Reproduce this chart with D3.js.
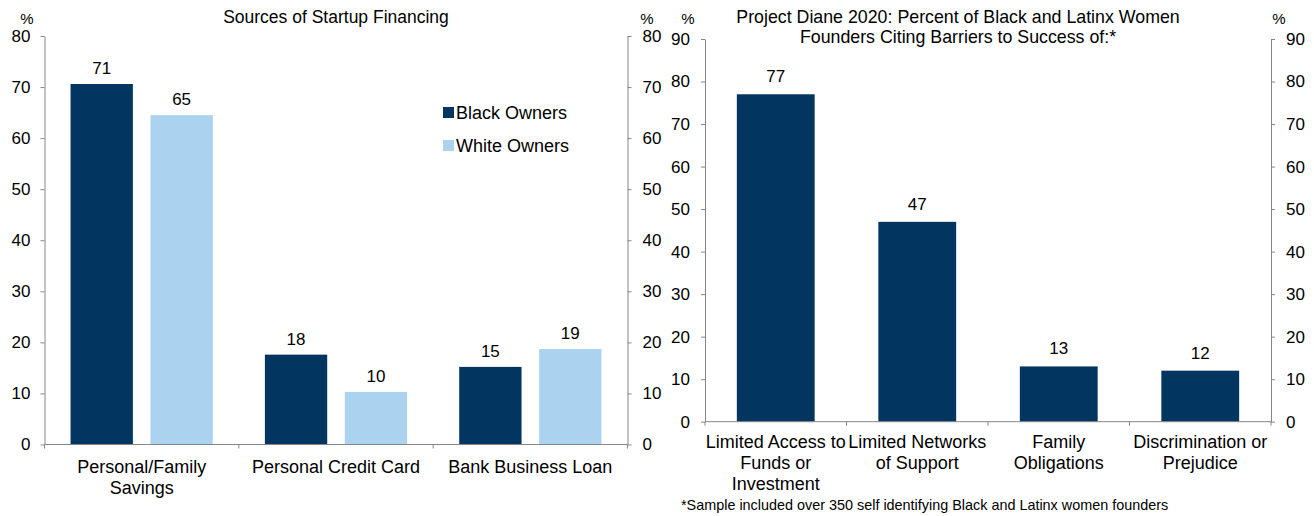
<!DOCTYPE html>
<html>
<head>
<meta charset="utf-8">
<script src="https://cdn.jsdelivr.net/npm/d3@7"></script>
<style>
  body { margin: 0; background: #fff; }
  svg { display: block; font-family: "Liberation Sans", Arial, sans-serif; }
  .axis path, .axis line { stroke: #868686; }
  .axis text { font-size: 17px; fill: #000; }
</style>
</head>
<body>
<svg width="1314" height="516"></svg>
<script>
// left chart data
let financeCats = ['Personal/Family Savings', 'Personal Credit Card', 'Bank Business Loan']
let financeLabels = [['Personal/Family', 'Savings'], ['Personal Credit Card'], ['Bank Business Loan']]
let seriesNames = ['Black Owners', 'White Owners']
let blackOwners = [70.6, 17.6, 15.2]
let whiteOwners = [64.5, 10.3, 18.7]
let blackShown = [71, 18, 15]
let whiteShown = [65, 10, 19]

// right chart data
let barrierCats = ['Limited Access to Funds or Investment', 'Limited Networks of Support', 'Family Obligations', 'Discrimination or Prejudice']
let barrierLabels = [['Limited Access to', 'Funds or', 'Investment'], ['Limited Networks', 'of Support'], ['Family', 'Obligations'], ['Discrimination or', 'Prejudice']]
let barrierValues = [77, 47, 13, 12]

let leftTicks = d3.range(0, 81, 10)
let rightTicks = d3.range(0, 91, 10)

let dark = '#023660'
let light = '#abd2ef'
let axisColor = '#868686'

let svg = d3.select('svg')

// ---------- left chart ----------
let y1 = d3.scaleLinear().domain([0, 80]).range([444.5, 36])
let x1 = d3.scaleBand().domain(financeCats).range([44.5, 627.5])
let xs = d3.scaleBand().domain(seriesNames).range([0, x1.bandwidth()])
    .paddingInner(0.22).paddingOuter(0.326)

svg.append('g').attr('class', 'axis')
    .attr('transform', 'translate(44.5,0)')
    .call(d3.axisLeft(y1).tickValues(leftTicks).tickSize(4).tickSizeOuter(0).tickPadding(10))
svg.append('g').attr('class', 'axis')
    .attr('transform', 'translate(627.5,0)')
    .call(d3.axisRight(y1).tickValues(leftTicks).tickSize(4).tickSizeOuter(0).tickPadding(11))

let rows = financeCats.map((c, i) => ({cat: c, vals: [blackOwners[i], whiteOwners[i]], shown: [blackShown[i], whiteShown[i]]}))
let groups = svg.append('g').selectAll('g').data(rows).enter().append('g')
    .attr('transform', d => `translate(${x1(d.cat)},0)`)
groups.selectAll('rect')
    .data(d => d.vals.map((v, j) => ({s: seriesNames[j], v: v})))
    .enter().append('rect')
    .attr('x', d => xs(d.s))
    .attr('width', xs.bandwidth())
    .attr('y', d => y1(d.v))
    .attr('height', d => y1(0) - y1(d.v))
    .attr('fill', (d, j) => j === 0 ? dark : light)
groups.selectAll('text')
    .data(d => d.vals.map((v, j) => ({s: seriesNames[j], v: v, t: d.shown[j]})))
    .enter().append('text')
    .attr('x', d => xs(d.s) + xs.bandwidth() / 2)
    .attr('y', d => y1(d.v) - 10)
    .attr('text-anchor', 'middle')
    .style('font-size', '17px')
    .text(d => d.t)

// category axis with ticks on the band edges
function bottomAxis(x, y0, labels, firstBaseline) {
    let g = svg.append('g')
    let edges = x.domain().map(d => x(d)).concat([x.range()[1]])
    g.append('line').attr('x1', x.range()[0]).attr('x2', x.range()[1])
        .attr('y1', y0).attr('y2', y0).attr('stroke', axisColor)
    g.selectAll('.tk').data(edges).enter().append('line')
        .attr('x1', d => d).attr('x2', d => d)
        .attr('y1', y0).attr('y2', y0 + 4).attr('stroke', axisColor)
    let t = g.selectAll('.lbl').data(x.domain()).enter().append('text')
        .attr('text-anchor', 'middle')
        .style('font-size', '18px')
    t.each(function (d, i) {
        d3.select(this).selectAll('tspan').data(labels[i]).enter().append('tspan')
            .attr('x', x(d) + x.bandwidth() / 2)
            .attr('y', (l, k) => firstBaseline + k * 21)
            .text(l => l)
    })
}
bottomAxis(x1, 444.5, financeLabels, 473)

// legend
let legend = svg.append('g')
seriesNames.forEach((s, i) => {
    legend.append('rect').attr('x', 443).attr('y', 107 + i * 33).attr('width', 11).attr('height', 11)
        .attr('fill', i === 0 ? dark : light)
    legend.append('text').attr('x', 456).attr('y', 118.5 + i * 33).style('font-size', '18px').text(s)
})

svg.append('text').attr('x', 336).attr('y', 23).attr('text-anchor', 'middle')
    .style('font-size', '17.5px').text('Sources of Startup Financing')
svg.append('text').attr('x', 27).attr('y', 24).attr('text-anchor', 'middle').style('font-size', '15px').text('%')
svg.append('text').attr('x', 647).attr('y', 24).attr('text-anchor', 'middle').style('font-size', '15px').text('%')

// ---------- right chart ----------
let y2 = d3.scaleLinear().domain([0, 90]).range([421.7, 39])
let x2 = d3.scaleBand().domain(barrierCats).range([705, 1271])
let x2b = d3.scaleBand().domain(barrierCats).range([705, 1271]).paddingInner(0.45).paddingOuter(0.225)

svg.append('g').attr('class', 'axis')
    .attr('transform', 'translate(705,0)')
    .call(d3.axisLeft(y2).tickValues(rightTicks).tickSize(4).tickSizeOuter(0).tickPadding(11))
svg.append('g').attr('class', 'axis')
    .attr('transform', 'translate(1271,0)')
    .call(d3.axisRight(y2).tickValues(rightTicks).tickSize(4).tickSizeOuter(0).tickPadding(11))

svg.append('g').selectAll('rect').data(barrierCats).enter().append('rect')
    .attr('x', d => x2b(d))
    .attr('width', x2b.bandwidth())
    .attr('y', (d, i) => y2(barrierValues[i]))
    .attr('height', (d, i) => y2(0) - y2(barrierValues[i]))
    .attr('fill', dark)
svg.append('g').selectAll('text').data(barrierCats).enter().append('text')
    .attr('x', d => x2b(d) + x2b.bandwidth() / 2)
    .attr('y', (d, i) => y2(barrierValues[i]) - 12)
    .attr('text-anchor', 'middle')
    .style('font-size', '17px')
    .text((d, i) => barrierValues[i])

bottomAxis(x2, 421.7, barrierLabels, 448)

let title2 = svg.append('text').attr('text-anchor', 'middle').style('font-size', '17.8px')
title2.append('tspan').attr('x', 958).attr('y', 23).text('Project Diane 2020: Percent of Black and Latinx Women')
title2.append('tspan').attr('x', 958).attr('y', 43).text('Founders Citing Barriers to Success of:*')
svg.append('text').attr('x', 688).attr('y', 24).attr('text-anchor', 'middle').style('font-size', '15px').text('%')
svg.append('text').attr('x', 1279).attr('y', 24).attr('text-anchor', 'middle').style('font-size', '15px').text('%')

svg.append('text').attr('x', 681).attr('y', 510).style('font-size', '14.4px')
    .text('*Sample included over 350 self identifying Black and Latinx women founders')
</script>
</body>
</html>
